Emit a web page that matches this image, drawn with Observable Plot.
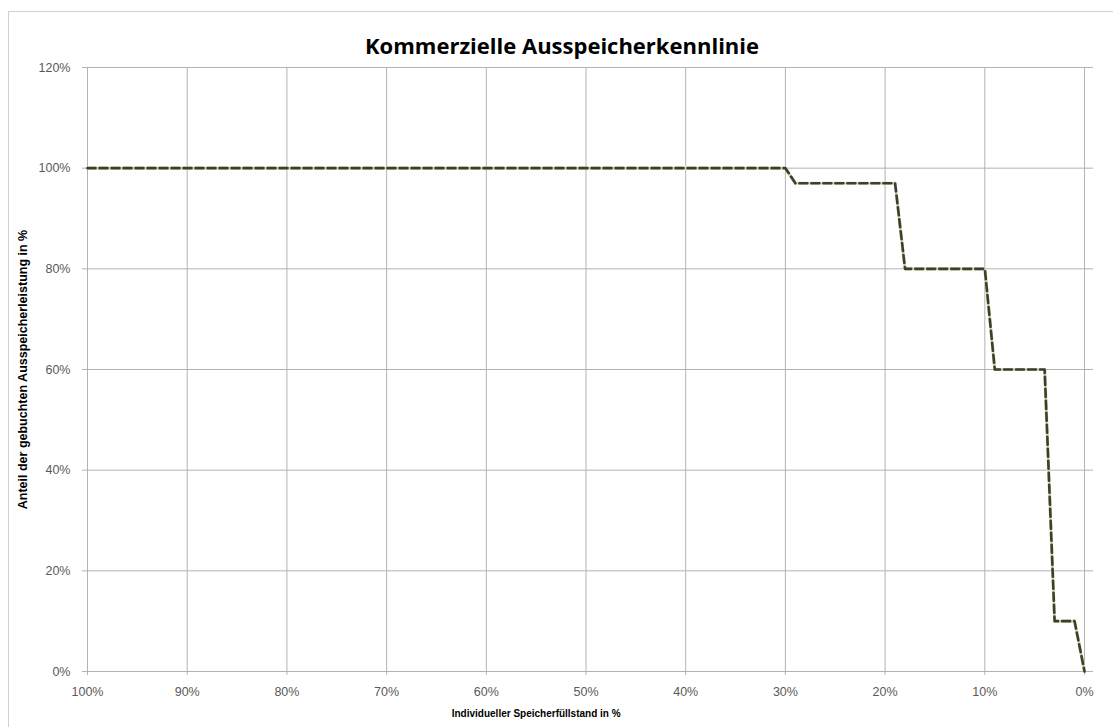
<!DOCTYPE html>
<html>
<head>
<meta charset="utf-8">
<script src="https://cdn.jsdelivr.net/npm/d3@7"></script>
<script src="https://cdn.jsdelivr.net/npm/@observablehq/plot@0.6"></script>
<style>
  html, body { margin: 0; padding: 0; background: #ffffff; }
  #box {
    position: absolute; left: 8px; top: 11px; width: 1110px; height: 720px;
    border: 1px solid #d0d0d0; border-right: none; border-bottom: none; background: #fff;
  }
  #title {
    height: 47px; line-height: 66px; text-align: center; overflow: visible;
    font-family: "Open Sans", "Liberation Sans", sans-serif; font-weight: bold; font-size: 22px;
    color: #000; padding-right: 4px;
  }
  #chart svg { display: block; }
</style>
</head>
<body>
<div id="box">
  <div id="title">Kommerzielle Ausspeicherkennlinie</div>
  <div id="chart"></div>
</div>
<script>
// Individueller Speicherfüllstand (%) and Anteil der gebuchten Ausspeicherleistung (%)
const fillLevel = [100, 30, 29, 19, 18, 10, 9, 4, 3, 1, 0];
const share     = [100, 100, 97, 97, 80, 80, 60, 60, 10, 10, 0];
const xTicks = [100, 90, 80, 70, 60, 50, 40, 30, 20, 10, 0];
const yTicks = [0, 20, 40, 60, 80, 100, 120];
const xLabel = "Individueller Speicherfüllstand in %";
const yLabel = "Anteil der gebuchten Ausspeicherleistung in %";

const data = fillLevel.map((x, i) => ({x, y: share[i]}));
const pct = d => d + "%";

const chart = Plot.plot({
  width: 1100,
  height: 666,
  marginLeft: 78,
  marginRight: 16,
  marginTop: 8,
  marginBottom: 54,
  style: {fontFamily: "'Liberation Sans', Arial, sans-serif", fontSize: "12.5px", color: "#595959", background: "#fff"},
  x: {domain: [100, -0.9], label: null},
  y: {domain: [0, 120], label: null},
  marks: [
    Plot.ruleY(yTicks, {stroke: "#b3b3b3", strokeWidth: 1}),
    Plot.ruleX(xTicks, {stroke: "#b3b3b3", strokeWidth: 1}),
    Plot.axisX({ticks: xTicks, tickFormat: pct, tickSize: 4, tickPadding: 12, stroke: "#b3b3b3", fill: "#595959", label: null}),
    Plot.axisY({ticks: yTicks, tickFormat: pct, tickSize: 5, tickPadding: 12, stroke: "#b3b3b3", fill: "#595959", label: null}),
    Plot.line(data, {x: "x", y: "y", stroke: "#dcdcb4", strokeWidth: 3.2}),
    Plot.line(data, {x: "x", y: "y", stroke: "#3d3d30", strokeWidth: 2.6, strokeDasharray: "8,4"}),
    Plot.text([xLabel], {frameAnchor: "bottom", dy: 45, x: () => 55, fontWeight: "bold", fontSize: 10, fill: "#000", textAnchor: "middle", fontFamily: "'Liberation Sans Narrow', 'Liberation Sans', sans-serif"}),
    Plot.text([yLabel], {frameAnchor: "left", dx: -65, rotate: -90, textAnchor: "middle", fontWeight: "bold", fontSize: 12.5, fill: "#000", fontFamily: "'Liberation Sans Narrow', 'Liberation Sans', sans-serif"})
  ]
});
document.getElementById("chart").appendChild(chart);
</script>
</body>
</html>
